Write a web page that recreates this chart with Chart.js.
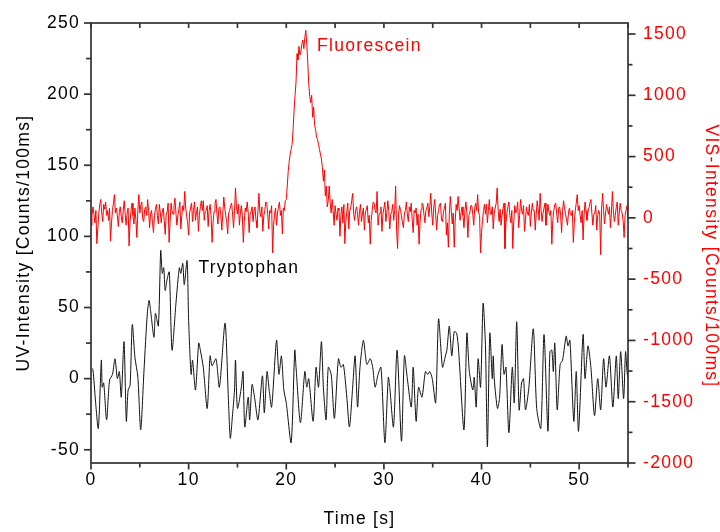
<!DOCTYPE html>
<html>
<head>
<meta charset="utf-8">
<script src="https://cdn.jsdelivr.net/npm/chart.js@4/dist/chart.umd.min.js"></script>
<style>
html,body{margin:0;padding:0;background:#fff;}
#c{display:block;}
</style>
</head>
<body>
<canvas id="c" width="720" height="532"></canvas>
<script>
// ---- data ----
const visStart = 0;
const visStep = 0.1;
const visValues = [
-60, 20, 90, 30, -40, 60, -210, -80, 40, 110,
150, 40, -30, 110, 70, 130, 20, 60, -20, 80,
-190, -40, 60, 120, 190, 40, 80, 20, -70, 50,
90, 10, -40, 60, 140, 30, -60, 40, 80, -230,
-30, 60, 120, 20, -50, 80, -20, -160, 60, 190,
40, 100, 130, -10, -30, 70, 90, 20, 150, 60,
-80, 30, 60, -40, -120, 20, 70, 110, 20, -50,
110, 40, -40, 50, 80, -20, -135, 30, 50, 120,
-200, -30, 120, 60, 30, 100, 160, 40, -60, 20,
70, 130, -90, 20, 100, 60, 216, 80, 10, -40,
-140, 40, 80, 120, -30, 60, 130, -20, 40, 90,
-110, 20, 90, 140, 60, 140, -20, 50, 60, 100,
-70, 60, 110, 20, -200, -40, 50, 120, 150, 30,
-50, 80, 90, 20, -100, 40, 170, 80, 20, -30,
-130, 40, 60, 100, 120, 30, -80, 60, 245, 90,
30, 110, -60, 40, 100, 20, -200, -30, 80, 50,
130, 40, -120, 30, 50, 90, -30, 60, 90, -20,
-80, 60, 200, 40, 10, 90, -110, 20, 60, 130,
120, 30, -90, 60, 40, 100, -285, -60, 30, 80,
-60, 40, 90, 130, 20, 60, -130, 80, 60, 140,
150, 260, 380, 460, 520, 560, 600, 720, 880, 1000,
1110, 1340, 1290, 1400, 1330, 1360, 1420, 1450, 1380, 1470,
1530, 1420, 1270, 1100, 990, 940, 1000, 820, 905, 760,
720, 660, 640, 600, 560, 520, 480, 410, 300, 390,
180, 260, 90, 140, 260, 120, 40, 150, 60, -60,
100, 30, -20, 80, 60, -150, 30, 90, -40, 110,
-210, -30, 50, 120, -90, 60, 80, 140, 200, 40,
-20, 60, 90, 30, -60, 50, 110, -30, 30, 80,
-100, 40, 70, 100, -40, 20, -215, -20, 60, 130,
120, 60, 40, 215, -60, 20, 40, 90, -110, 30,
80, 130, -30, 40, 140, 60, -90, 30, 50, 110,
-20, 60, 260, -100, -250, 30, 100, 60, 20, -40,
-80, 40, 60, 130, 30, -30, 90, 50, 120, -20,
-120, 60, 40, 80, -60, 30, -215, -40, 70, 120,
110, 30, -40, 60, 80, 120, 10, 90, 200, 40,
-60, 80, 150, 30, -100, 20, 60, 110, 120, -20,
-30, 50, 80, 120, -140, -40, -240, 30, 175, 60,
-50, 40, -240, -30, 110, 60, 175, 80, -20, 40,
90, 20, -80, 60, 130, 40, -160, 20, 40, 100,
100, 30, -60, 80, 120, 60, 190, 40, 20, -285,
-120, -20, 60, 110, 30, 110, -40, 60, 150, 30,
30, 90, -90, 40, 80, 120, 245, 60, -30, 70,
-60, 20, 80, 120, -250, -40, 40, 90, 130, 20,
-40, 60, -250, -30, 100, 40, 60, 130, -80, 20,
150, 60, 30, 100, -110, -20, 90, 40, 20, 110,
-70, 40, 120, 60, 60, -100, 30, 140, 70, -20,
200, 60, -30, 40, 80, 120, -60, 20, 110, 50,
20, 60, -215, -20, 60, 110, 120, 30, -40, 80,
90, 20, -120, 60, 140, 80, 30, -10, -60, 40,
80, 30, 20, 60, -200, -40, 60, 120, 190, 60,
100, 20, -40, 60, -180, 20, 130, 60, -20, 50,
80, 120, 150, 40, -60, 30, 40, 100, -100, 20,
60, 30, -300, 80, 200, 60, -50, 40, 110, 70,
30, 90, -80, 40, 215, 60, -30, 20, 90, 130,
-60, 40, 120, 60, 40, -20, -160, 20, 60, 100,
-20
];

const uvTime = [
0.0,0.2,0.45,0.75,1.06,1.15,1.3,1.6,1.9,2.2,2.46,2.7,2.9,3.1,3.38,3.62,3.8,4.0,4.23,4.5,
4.8,5.09,5.43,5.77,5.95,6.1,6.45,6.6,6.9,7.14,7.3,7.45,7.6,7.8,8.02,8.3,8.7,9.05,9.2,9.4,
9.55,9.84,10.0,10.25,10.4,10.7,11.03,11.2,11.5,11.9,12.2,12.4,12.8,13.15,13.73,14.07,14.27,14.5,14.7,14.8,
15.0,15.4,15.57,15.75,16.1,16.25,16.5,16.75,17.1,17.56,17.75,18.03,18.25,18.5,19.0,19.25,19.5,19.75,20.0,20.5,
20.87,21.0,21.45,21.9,22.1,22.3,22.75,23.05,23.3,23.6,23.8,24.08,24.3,24.6,24.93,25.34,25.6,25.85,26.2,26.47,
26.8,27.05,27.3,27.55,27.9,28.25,28.6,28.85,29.1,29.4,29.7,30.1,30.45,30.6,30.98,31.35,31.8,32.1,32.4,32.8,
33.0,33.3,33.55,33.9,34.25,34.5,34.7,34.95,35.3,35.6,36.0,36.3,36.45,36.7,36.95,37.2,37.45,37.65,38.2,38.5,
38.75,39.1,39.25,39.45,39.65,39.9,40.16,40.4,40.6,40.85,41.1,41.2,41.3,41.63,41.85,42.1,42.3,42.5,42.8,43.15,
43.35,43.6,43.85,44.1,44.3,44.5,44.85,45.3,45.65,46.07,46.4,46.8,47.0,47.2,47.35,47.5,47.75,48.05,48.3,48.67,
48.85,49.05,49.45,49.7,49.93,50.4,50.6,50.9,51.2,51.57,51.9,52.2,52.5,52.75,53.1,53.45,53.8,54.0,54.25,54.55,
54.75,54.9,55.0
];
const uvValue = [
8,6,-15,-35,13,-6,-3,-29,-1,3,14,0,5,-13,26,-30,-8,-5,38,15,
1,-36,6,46,55,48,29,46,37,90,74,78,62,70,75,20,53,78,74,81,
66,83,41,3,13,-8,25,20,8,-21,16,9,14,-6,39,-14,-42,-25,-8,13,
-21,-6,5,-34,-13,-29,-4,-13,-29,2,-24,5,-8,-20,27,3,16,-8,-17,-45,
20,8,-31,5,-6,0,-30,8,-6,26,-6,-29,8,3,-28,14,8,10,-13,-34,
-6,16,-20,8,27,10,14,8,-6,3,8,-45,1,-6,-34,20,-44,16,0,-20,
8,-30,-6,-13,5,3,5,0,-17,42,8,16,20,37,16,33,32,20,-36,32,
5,-8,1,-20,14,-6,53,23,-48,32,0,16,0,-21,-13,24,3,8,-38,8,
-17,40,-22,-3,0,-22,-6,35,-21,-35,31,-37,19,20,5,25,-22,10,13,30,
23,27,-30,5,-37,31,0,23,8,-26,0,-22,14,-6,16,-20,16,-14,19,-14,
19,5,0
];

const xMajor = [0, 10, 20, 30, 40, 50];
const xMinor = [5, 15, 25, 35, 45, 55];
const leftMajor = [-50, 0, 50, 100, 150, 200, 250];
const leftMinor = [-25, 25, 75, 125, 175, 225];
const rightMajor = [-2000, -1500, -1000, -500, 0, 500, 1000, 1500];
const rightMinor = [-1750, -1250, -750, -250, 250, 750, 1250];

const labels = [
  {text: 'Fluorescein', x: 23.15, y: 1364, axis: 'y1', color: '#ff0000'},
  {text: 'Tryptophan', x: 11.0, y: 74.3, axis: 'y', color: '#000000'}
];
const rightTitle = 'VIS-Intensity [Counts/100ms]';

// ---- chart ----
const FONT = "'Liberation Sans', Arial, sans-serif";
const FSIZE = 17.5;
const SPACING = '1.3px';
const AXIS_COLOR = '#333333';

const spacingPlugin = {
  id: 'spacing',
  beforeLayout(chart) { chart.ctx.letterSpacing = SPACING; },
  beforeDraw(chart) { chart.ctx.letterSpacing = SPACING; }
};

const framePlugin = {
  id: 'frame',
  afterDraw(chart) {
    const {ctx, chartArea: a, scales} = chart;
    ctx.save();
    ctx.letterSpacing = SPACING;
    ctx.strokeStyle = AXIS_COLOR;
    ctx.lineWidth = 1.7;
    ctx.lineCap = 'butt';
    const line = (x1, y1, x2, y2) => { ctx.beginPath(); ctx.moveTo(x1, y1); ctx.lineTo(x2, y2); ctx.stroke(); };
    ctx.strokeRect(a.left, a.top, a.right - a.left, a.bottom - a.top);
    xMajor.forEach(v => { const p = scales.x.getPixelForValue(v); line(p, a.bottom, p, a.bottom + 6.5); line(p, a.top, p, a.top + 5); });
    xMinor.forEach(v => { const p = scales.x.getPixelForValue(v); if (p > a.right + 0.5) return; line(p, a.bottom, p, a.bottom + 4.5); line(p, a.top, p, a.top + 5); });
    leftMajor.forEach(v => { const p = scales.y.getPixelForValue(v); line(a.left - 7, p, a.left, p); });
    leftMinor.forEach(v => { const p = scales.y.getPixelForValue(v); line(a.left - 5, p, a.left, p); });
    rightMajor.forEach(v => { const p = scales.y1.getPixelForValue(v); line(a.right, p, a.right + 7.5, p); });
    rightMinor.forEach(v => { const p = scales.y1.getPixelForValue(v); line(a.right, p, a.right + 4.5, p); });
    ctx.font = FSIZE + "px " + FONT;
    ctx.textBaseline = 'alphabetic';
    ctx.textAlign = 'left';
    labels.forEach(l => {
      ctx.fillStyle = l.color;
      ctx.fillText(l.text, scales.x.getPixelForValue(l.x), scales[l.axis].getPixelForValue(l.y));
    });
    // right axis title (rotated, reads top to bottom)
    ctx.translate(chart.width - 9, (a.top + a.bottom) / 2 + 13);
    ctx.rotate(Math.PI / 2);
    ctx.textAlign = 'center';
    ctx.textBaseline = 'middle';
    ctx.fillStyle = '#ff0000';
    ctx.fillText(rightTitle, 0, 0);
    ctx.restore();
  }
};

const visData = visValues.map((v, i) => ({x: visStart + i * visStep, y: v}));
const uvData = uvTime.map((t, i) => ({x: t, y: uvValue[i]}));

const gridOpts = (tl) => ({display: true, drawOnChartArea: false, drawTicks: true, tickLength: tl, tickColor: 'rgba(0,0,0,0)'});
const plain = v => String(v);

new Chart(document.getElementById('c'), {
  type: 'line',
  data: {
    datasets: [
      {label: 'Fluorescein', data: visData, yAxisID: 'y1', borderColor: '#ff0000', borderWidth: 1, pointRadius: 0, tension: 0, fill: false},
      {label: 'Tryptophan', data: uvData, yAxisID: 'y', borderColor: '#111111', borderWidth: 1, pointRadius: 0, tension: 0.25, fill: false}
    ]
  },
  options: {
    responsive: false,
    animation: false,
    devicePixelRatio: 1,
    layout: {padding: {top: 23, left: 0, right: 0, bottom: 0}},
    plugins: {legend: {display: false}, tooltip: {enabled: false}},
    scales: {
      x: {
        type: 'linear', position: 'bottom', min: 0, max: 55,
        afterBuildTicks: s => { s.ticks = xMajor.map(v => ({value: v})); },
        afterFit: s => { s.height = 69; },
        grid: gridOpts(6),
        border: {display: false},
        ticks: {color: '#000', font: {family: FONT, size: FSIZE}, padding: 1, maxRotation: 0, autoSkip: false, callback: plain},
        title: {display: true, text: 'Time [s]', color: '#000', font: {family: FONT, size: FSIZE, lineHeight: 1}, padding: {top: 0, bottom: 4.5}}
      },
      y: {
        type: 'linear', position: 'left', min: -59.3, max: 250,
        afterBuildTicks: s => { s.ticks = leftMajor.map(v => ({value: v})); },
        afterFit: s => { s.width = 91; },
        grid: gridOpts(7),
        border: {display: false},
        ticks: {color: '#000', font: {family: FONT, size: FSIZE}, padding: 4, autoSkip: false, callback: plain},
        title: {display: true, text: 'UV-Intensity [Counts/100ms]', color: '#000', font: {family: FONT, size: FSIZE, lineHeight: 1}, padding: {top: 15.5, bottom: 0}}
      },
      y1: {
        type: 'linear', position: 'right', min: -2000, max: 1590,
        afterBuildTicks: s => { s.ticks = rightMajor.map(v => ({value: v})); },
        afterFit: s => { s.width = 92; },
        grid: gridOpts(8),
        border: {display: false},
        ticks: {color: '#ff0000', font: {family: FONT, size: FSIZE}, padding: 7, autoSkip: false, callback: plain},
        title: {display: false}
      }
    }
  },
  plugins: [spacingPlugin, framePlugin]
});
</script>
</body>
</html>
